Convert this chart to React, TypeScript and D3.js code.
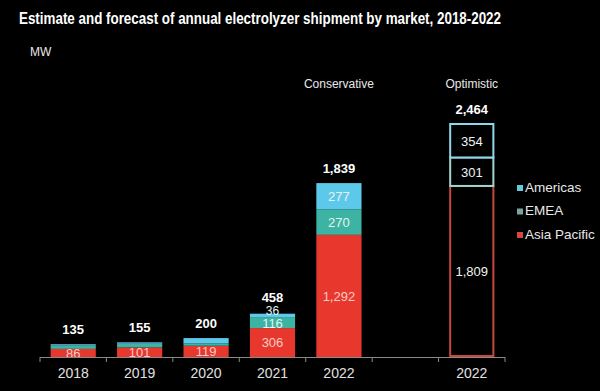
import { useEffect, useRef } from 'react'
import * as d3 from 'd3'

const slots = ['2018', '2019', '2020', '2021', '2022', 'gap', '2022opt']
const years = ['2018', '2019', '2020', '2021', '2022', '2022opt']
const yearLabels = ['2018', '2019', '2020', '2021', '2022', '2022']
const asiaPacific = [86, 101, 119, 306, 1292, 1809]
const emea = [35, 40, 25, 116, 270, 301]
const americas = [14, 14, 56, 36, 277, 354]
const totals = ['135', '155', '200', '458', '1,839', '2,464']
const showSegmentLabels = [false, false, false, true, true, true]
const seriesNames = ['Americas', 'EMEA', 'Asia Pacific']

export default function App() {
  const ref = useRef<SVGSVGElement>(null)

  useEffect(() => {
    document.body.style.margin = '0'
    document.body.style.background = '#000'
    if (!ref.current) return
    const svg = d3.select(ref.current)
    svg.selectAll('*').remove()

    const font = 'Liberation Sans, Arial, sans-serif'
    const baseline = 357

    const x = d3.scaleBand().domain(slots).range([40, 505]).paddingInner(0.32).paddingOuter(0.16)
    const y = d3.scaleLinear().domain([0, 2464]).range([baseline, 124])

    const fill: Record<string, string> = {
      'Asia Pacific': '#e8382d',
      EMEA: '#3cb3a3',
      Americas: '#5dc9ea'
    }
    const outline: Record<string, string> = {
      'Asia Pacific': '#c9463f',
      EMEA: '#9fd6cf',
      Americas: '#8fd8ec'
    }
    const legendColor: Record<string, string> = {
      'Asia Pacific': '#d4493f',
      EMEA: '#7fa39c',
      Americas: '#62cbd9'
    }

    svg.append('rect').attr('width', 600).attr('height', 391).attr('fill', '#000')

    // Title
    svg
      .append('text')
      .attr('x', 19)
      .attr('y', 24)
      .attr('textLength', 482)
      .attr('lengthAdjust', 'spacingAndGlyphs')
      .style('font-family', font)
      .style('font-size', '16px')
      .style('font-weight', 'bold')
      .style('fill', '#fff')
      .text('Estimate and forecast of annual electrolyzer shipment by market, 2018-2022')

    svg
      .append('text')
      .attr('x', 30)
      .attr('y', 56)
      .style('font-family', font)
      .style('font-size', '12px')
      .style('fill', '#e8e8e8')
      .text('MW')

    // Bars
    years.forEach((yr, i) => {
      const bx = x(yr)!
      const bw = x.bandwidth()
      const segs = [
        { name: 'Asia Pacific', v: asiaPacific[i] },
        { name: 'EMEA', v: emea[i] },
        { name: 'Americas', v: americas[i] }
      ]
      const optimistic = yr === '2022opt'
      let acc = 0
      segs.forEach((s, j) => {
        const y0 = y(acc)
        const y1 = y(acc + s.v)
        acc += s.v
        if (optimistic) {
          svg
            .append('rect')
            .attr('x', bx + 1)
            .attr('y', y1)
            .attr('width', bw - 2)
            .attr('height', y0 - y1 - (j === 0 ? 1 : 0))
            .attr('fill', '#000')
            .attr('stroke', outline[s.name])
            .attr('stroke-width', 2)
        } else {
          svg
            .append('rect')
            .attr('x', bx)
            .attr('y', y1)
            .attr('width', bw)
            .attr('height', y0 - y1)
            .attr('fill', fill[s.name])
        }
        if (showSegmentLabels[i] || j === 0) {
          const small = s.v < 60
          const labelY = small ? y1 - 2 : (y0 + y1) / 2 + 1.5
          svg
            .append('text')
            .attr('x', bx + bw / 2)
            .attr('y', labelY)
            .attr('text-anchor', 'middle')
            .attr('dominant-baseline', 'middle')
            .style('font-family', font)
            .style('font-size', small ? '12px' : '13px')
            .style('fill', optimistic ? '#f2f2f2' : j === 0 ? '#f6cbc6' : '#e6f4f2')
            .text(d3.format(',')(s.v))
        }
      })

      svg
        .append('text')
        .attr('x', bx + bw / 2)
        .attr('y', y(acc) - (i === 3 ? 12 : 10))
        .attr('text-anchor', 'middle')
        .style('font-family', font)
        .style('font-size', '13px')
        .style('font-weight', 'bold')
        .style('fill', '#fff')
        .text(totals[i])
    })

    // Scenario headers
    const headers = [
      { key: '2022', label: 'Conservative' },
      { key: '2022opt', label: 'Optimistic' }
    ]
    headers.forEach(h => {
      svg
        .append('text')
        .attr('x', x(h.key)! + x.bandwidth() / 2)
        .attr('y', 88)
        .attr('text-anchor', 'middle')
        .style('font-family', font)
        .style('font-size', '12px')
        .style('fill', '#e8e8e8')
        .text(h.label)
    })

    // Axis
    const axis = svg.append('g')
    axis
      .append('line')
      .attr('x1', 40)
      .attr('x2', 505)
      .attr('y1', baseline + 0.5)
      .attr('y2', baseline + 0.5)
      .attr('stroke', '#8a8a8a')
    const edges = slots.map(s => x(s)! - (x.step() - x.bandwidth()) / 2).concat([505])
    edges.forEach(e => {
      axis
        .append('line')
        .attr('x1', e)
        .attr('x2', e)
        .attr('y1', baseline)
        .attr('y2', baseline + 5)
        .attr('stroke', '#8a8a8a')
    })
    years.forEach((yr, i) => {
      axis
        .append('text')
        .attr('x', x(yr)! + x.bandwidth() / 2)
        .attr('y', 378)
        .attr('text-anchor', 'middle')
        .style('font-family', font)
        .style('font-size', '14px')
        .style('fill', '#e0e0e0')
        .text(yearLabels[i])
    })

    // Legend
    seriesNames.forEach((name, i) => {
      const row = svg.append('g').attr('transform', `translate(517, ${188 + i * 23.5})`)
      row
        .append('rect')
        .attr('x', 0)
        .attr('y', -3)
        .attr('width', 6)
        .attr('height', 6)
        .attr('fill', legendColor[name])
      row
        .append('text')
        .attr('x', 8)
        .attr('y', 0)
        .attr('dominant-baseline', 'middle')
        .style('font-family', font)
        .style('font-size', '13.5px')
        .style('fill', '#e8e8e8')
        .text(name)
    })
  }, [])

  return <svg ref={ref} width={600} height={391} style={{ display: 'block' }} />
}
